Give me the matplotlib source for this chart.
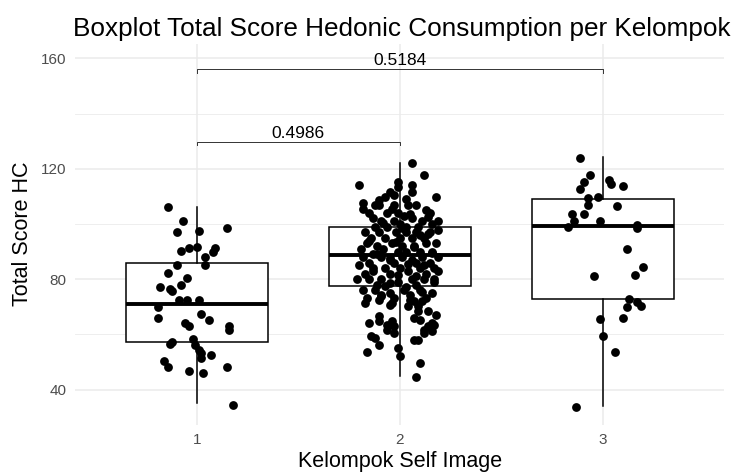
import numpy as np
import matplotlib
matplotlib.use("Agg")
import matplotlib.pyplot as plt

plt.rcParams['font.family'] = ['Liberation Sans', 'DejaVu Sans']

# ringkasan boxplot per kelompok
groups = [1, 2, 3]
whis_lo = [35.0, 44.8, 34.0]
q1 = [57.2, 77.4, 72.8]
med = [71.1, 88.8, 99.3]
q3 = [85.8, 98.8, 109.2]
whis_hi = [106.0, 122.0, 124.1]

# titik jitter (offset x dari posisi kelompok, nilai y)
g1_dx = [-0.14, -0.07, -0.10, 0.01, 0.15, -0.08, -0.04, 0.00, 0.09, 0.08, 0.04, 0.04,
         -0.10, -0.14, -0.05, -0.18, -0.13, -0.12, -0.08, -0.09, -0.05, 0.01, -0.19,
         -0.19, 0.02, 0.06, -0.06, -0.04, 0.16, 0.16, -0.12, -0.13, -0.02, -0.01, 0.01,
         0.02, 0.02, 0.07, -0.16, -0.14, -0.04, 0.03, 0.15, 0.18]
g1_y = [106.3, 101.2, 97.0, 97.6, 98.7, 90.1, 91.4, 91.8, 91.2, 89.9, 88.0, 85.1,
        85.0, 82.2, 80.6, 77.2, 76.4, 75.7, 78.0, 72.3, 72.3, 72.4, 69.9,
        65.9, 67.4, 65.1, 64.1, 62.9, 63.1, 61.7, 57.4, 56.6, 58.3, 56.3, 54.5,
        53.3, 51.5, 52.7, 50.5, 48.2, 46.9, 46.0, 48.3, 34.4]

g2_dx = [0.06, 0.12, -0.20, -0.01, -0.01, 0.06, -0.05, 0.06, 0.18, -0.07, 0.03, -0.10,
         -0.18, -0.18, -0.10, -0.03, 0.04, 0.08, -0.15, 0.13, -0.01, 0.02, 0.15, -0.06,
         -0.13, -0.09, -0.03, 0.06, 0.11, 0.16, 0.19, 0.00, -0.12, -0.06, 0.03, 0.09,
         -0.17, -0.10, -0.02, 0.03, 0.08, 0.15, 0.19, -0.14, -0.07, 0.00, 0.06, 0.12,
         -0.16, -0.11, -0.04, 0.01, 0.07, 0.13, 0.18, -0.19, -0.08, -0.01, 0.03, 0.10,
         0.16, -0.13, -0.18, -0.09, -0.05, 0.01, 0.06, 0.11, 0.19, -0.15, -0.03, 0.08,
         0.15, -0.20, -0.13, -0.07, 0.00, 0.04, 0.10, 0.17, -0.17, -0.05, 0.13, 0.19,
         -0.21, -0.15, -0.09, -0.01, 0.06, 0.12, 0.17, -0.11, 0.08, -0.18, -0.12, -0.05,
         0.02, 0.10, 0.16, -0.16, -0.03, 0.13,
         -0.17, -0.10, -0.09, -0.04, 0.05, 0.07, 0.04, 0.09, 0.14, 0.18, -0.15, -0.10,
         -0.04, 0.07, 0.10, 0.16, 0.17, -0.05, -0.05, 0.11, 0.09, -0.10, -0.06, -0.03,
         0.14, 0.12, 0.16, -0.14, -0.12, -0.10, 0.07, 0.09, -0.16, -0.01, 0.00, 0.10,
         0.08, 0.12, -0.06, -0.03,
         -0.12, -0.04, 0.05, 0.14, -0.08, 0.01, 0.10, -0.15, -0.02, 0.07, 0.16, -0.11,
         -0.05, 0.04, 0.12, -0.13, -0.01, 0.08, 0.17, -0.07, 0.03, 0.11, -0.09, 0.05,
         -0.03, 0.14]
g2_y = [122.0, 117.8, 114.1, 115.3, 113.3, 114.3, 111.7, 111.7, 109.9, 109.9, 109.0, 108.6,
        107.5, 105.4, 106.9, 106.9, 106.9, 106.9, 104.0, 105.0, 104.0, 103.0, 104.0, 104.0,
        102.0, 101.0, 101.0, 102.0, 101.0, 100.0, 101.0, 100.0, 99.0, 99.0, 99.0, 99.0,
        97.0, 97.0, 97.0, 97.0, 97.0, 97.0, 98.0, 95.0, 95.0, 95.0, 95.0, 95.0,
        93.0, 92.0, 93.0, 92.0, 92.0, 93.0, 93.0, 91.0, 91.0, 90.0, 90.0, 90.0,
        90.0, 89.0, 88.0, 88.0, 87.0, 88.0, 87.0, 88.0, 88.0, 86.0, 86.0, 86.0,
        86.0, 85.0, 84.0, 84.0, 84.0, 83.0, 84.0, 84.0, 82.0, 82.0, 82.0, 83.0,
        80.0, 80.0, 80.0, 79.0, 80.0, 80.0, 80.0, 78.0, 78.0, 76.0, 76.0, 75.0,
        76.0, 76.0, 75.0, 73.0, 73.0, 73.0,
        71.3, 72.5, 74.3, 71.3, 74.3, 72.0, 70.1, 70.1, 68.3, 67.1, 64.1, 64.7,
        64.7, 65.9, 65.3, 64.1, 63.5, 78.6, 70.8, 72.0, 68.3, 66.5, 63.5, 62.9,
        63.0, 61.7, 61.1, 59.3, 58.5, 56.0, 57.8, 57.8, 53.5, 55.1, 52.2, 49.8,
        44.5, 60.5, 61.4, 60.6,
        107.0, 105.5, 103.5, 102.5, 100.5, 98.5, 96.0, 94.0, 93.5, 91.5, 89.5, 89.0,
        87.5, 85.5, 85.0, 83.0, 81.5, 81.0, 79.0, 77.5, 77.0, 75.5, 74.0, 72.5,
        110.5, 96.5]

g3_dx = [-0.11, -0.06, -0.09, -0.11, 0.03, 0.04, 0.10, -0.07, -0.02, -0.07, 0.07, -0.15,
         -0.09, -0.14, -0.17, -0.01, 0.17, 0.17, 0.12, 0.20, 0.16, -0.04, 0.13, 0.17,
         0.19, 0.12, -0.01, 0.10, 0.00, 0.06, -0.13]
g3_y = [124.0, 117.7, 115.1, 112.8, 115.9, 114.4, 113.7, 109.3, 109.9, 106.9, 106.6, 103.6,
        103.7, 101.1, 98.8, 101.0, 99.5, 98.6, 91.0, 84.4, 81.6, 81.0, 72.8, 71.7,
        70.1, 69.8, 65.7, 65.9, 59.3, 53.5, 33.6]

# uji perbandingan antar kelompok
pairs = [(1, 2), (1, 3)]
bracket_y = [129.8, 156.0]
p_labels = ["0.4986", "0.5184"]

fig = plt.figure(figsize=(7.36, 4.76), dpi=100)
ax = fig.add_axes([0.102, 0.108, 0.882, 0.800])

stats = []
for i in range(len(groups)):
    stats.append(dict(whislo=whis_lo[i], q1=q1[i], med=med[i], q3=q3[i], whishi=whis_hi[i]))

ax.bxp(stats, positions=groups, widths=0.7, showfliers=False, showcaps=False,
       patch_artist=True,
       boxprops=dict(facecolor='white', edgecolor='black', linewidth=1.1),
       medianprops=dict(color='black', linewidth=2.8, solid_capstyle='butt'),
       whiskerprops=dict(color='black', linewidth=1.1), zorder=2)

for g, dx, ys in [(1, g1_dx, g1_y), (2, g2_dx, g2_y), (3, g3_dx, g3_y)]:
    ax.scatter(g + np.array(dx), ys, s=40, color='black', linewidths=0, zorder=3)

tip = 1.2
for (a, b), y, lab in zip(pairs, bracket_y, p_labels):
    ax.plot([a, a, b, b], [y - tip, y, y, y - tip], color='#333333', lw=0.7, zorder=4)
    ax.text((a + b) / 2, y + 0.4, lab, ha='center', va='bottom', fontsize=12.5, color='black')

ax.set_xlim(0.4, 3.6)
ax.set_ylim(27.3, 165.3)
ax.set_xticks(groups)
ax.set_xticklabels([str(g) for g in groups])
ax.set_yticks([40, 80, 120, 160])
ax.set_yticks([60, 100, 140], minor=True)
ax.grid(True, which='major', color='#EBEBEB', lw=1.1)
ax.grid(True, which='minor', axis='y', color='#EBEBEB', lw=0.6)
ax.set_axisbelow(True)
for s in ax.spines.values():
    s.set_visible(False)
ax.tick_params(which='both', length=0, labelsize=11, labelcolor='#4D4D4D', pad=6)

ax.set_xlabel("Kelompok Self Image", fontsize=15.5, labelpad=3)
ax.set_ylabel("Total Score HC", fontsize=15.5, labelpad=6)
fig.text(0.099, 0.94, "Boxplot Total Score Hedonic Consumption per Kelompok",
         fontsize=18.8, ha='left', va='center')

fig.savefig("out.png", dpi=100)
